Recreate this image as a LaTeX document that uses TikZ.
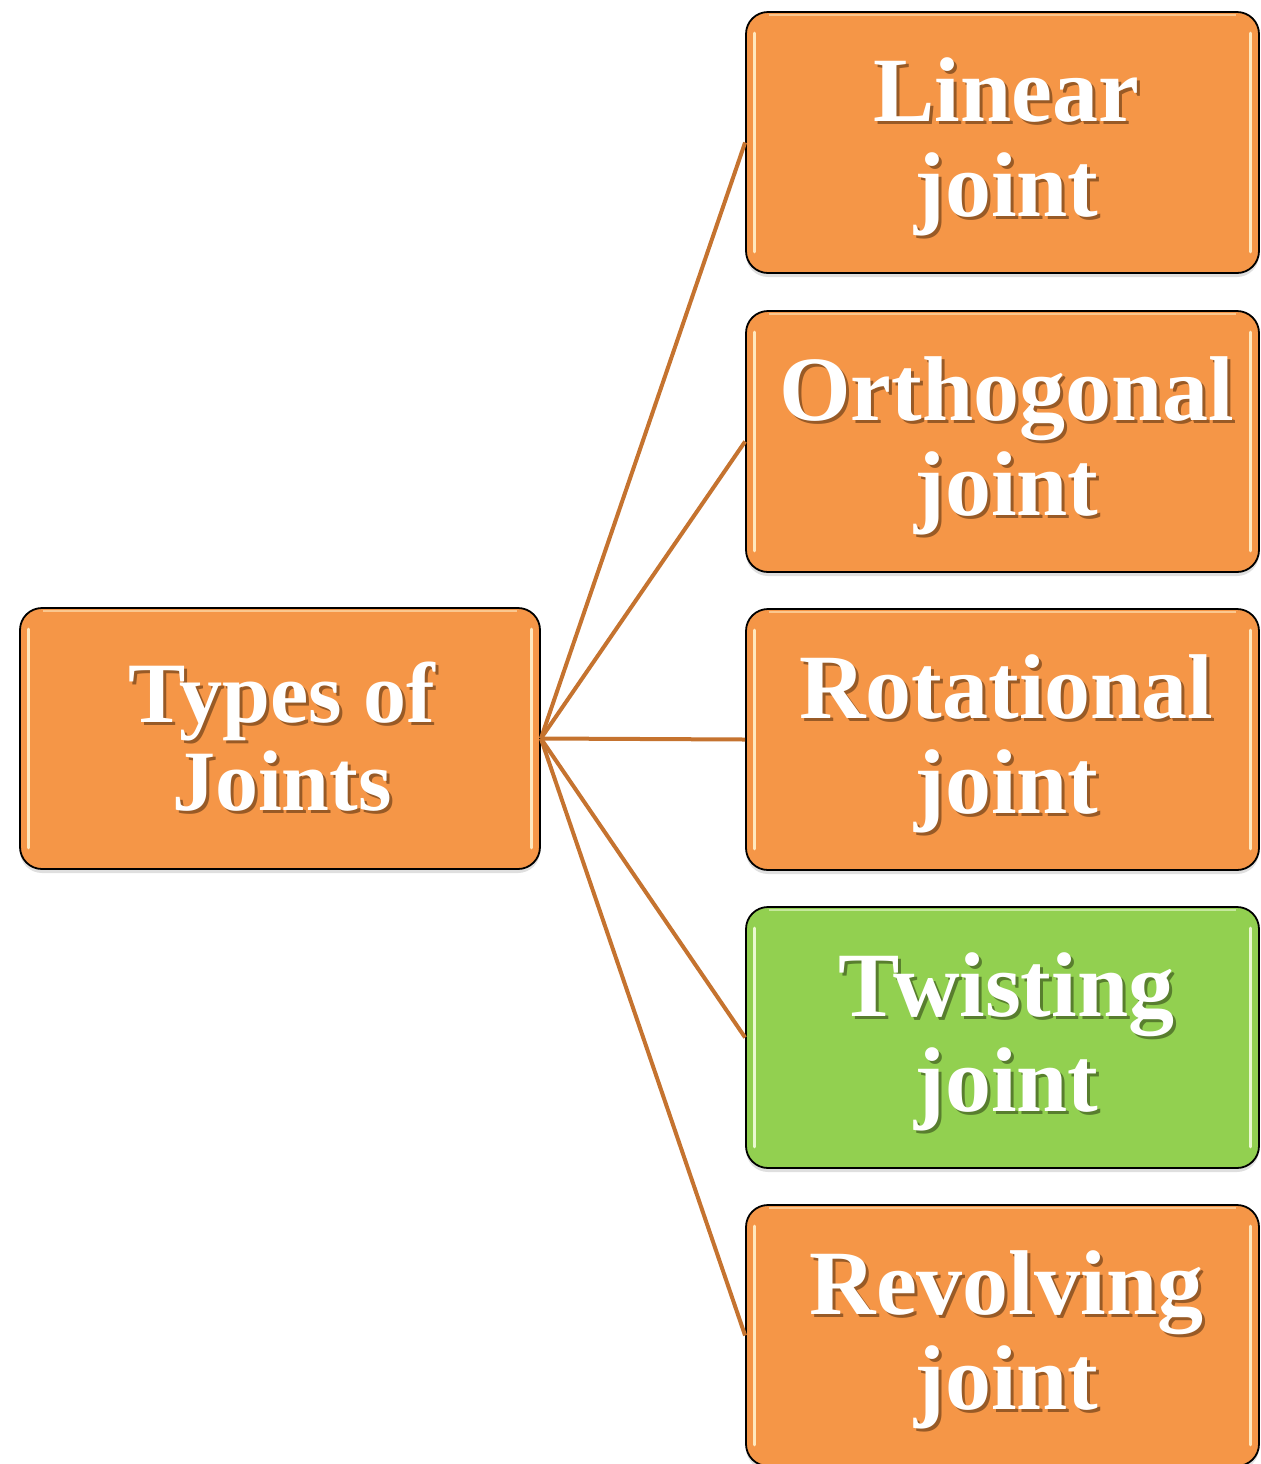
\documentclass[tikz,border=0pt]{standalone}
\usepackage{fontspec}
\setmainfont{Liberation Serif}
\usetikzlibrary{shadows}
\definecolor{boxorange}{HTML}{F59647}
\definecolor{boxgreen}{HTML}{92D050}
\definecolor{linkc}{HTML}{C5732F}
\definecolor{shor}{HTML}{985A26}
\definecolor{shgr}{HTML}{587E2E}
\definecolor{hiorange}{HTML}{FFE8BE}
\definecolor{higreen}{HTML}{EAF8D0}
\newcommand\sh[2]{\makebox[0pt][l]{\kern1.5pt\raisebox{-1.5pt}{\textcolor{#1}{#2}}}#2}
\newcommand\gloss[2]{%
  \draw[#2, line width=1.5pt, line cap=round] ([xshift=4.5pt,yshift=-11pt]#1.north west) -- ([xshift=4.5pt,yshift=11pt]#1.south west);
  \draw[#2, line width=1.5pt, line cap=round] ([xshift=-4.5pt,yshift=-11pt]#1.north east) -- ([xshift=-4.5pt,yshift=11pt]#1.south east);
  \draw[#2, line width=1pt, opacity=0.6] ([xshift=12pt,yshift=-1.8pt]#1.north west) -- ([xshift=-12pt,yshift=-1.8pt]#1.north east);
}
\tikzset{
  jbox/.style={draw=black, line width=0.9pt, rounded corners=11pt, fill=boxorange,
    minimum height=130.5pt, inner sep=0pt,
    drop shadow={shadow xshift=0pt, shadow yshift=-2pt, opacity=0.25}},
  rootbox/.style={jbox, minimum width=260pt},
  leafbox/.style={jbox, minimum width=256.5pt},
  greenbox/.style={leafbox, fill=boxgreen},
  leaftext/.style={align=center, text=white, inner sep=0pt, xshift=2pt, yshift=-2.75pt,
    font=\fontsize{46}{47.5}\selectfont\bfseries},
  roottext/.style={align=center, text=white, inner sep=0pt, xshift=1pt,
    font=\fontsize{43}{44}\selectfont\bfseries},
  link/.style={draw=linkc, line width=2pt}
}
\begin{document}
\begin{tikzpicture}[x=0.5pt,y=-0.5pt]
\useasboundingbox (0,0) rectangle (1261,1464);
\node[rootbox] (root) at (280,738.5) {};
\node[leafbox] (b1) at (1002.5,142.5) {};
\node[leafbox] (b2) at (1002.5,441.5) {};
\node[leafbox] (b3) at (1002.5,739.5) {};
\node[greenbox] (b4) at (1002.5,1037.5) {};
\node[leafbox] (b5) at (1002.5,1335.5) {};
\gloss{root}{hiorange}
\gloss{b1}{hiorange}
\gloss{b2}{hiorange}
\gloss{b3}{hiorange}
\gloss{b4}{higreen}
\gloss{b5}{hiorange}
\node[roottext] (t0) at (root) {\sh{shor}{Types of}\\\sh{shor}{Joints}};
\node[leaftext] (t1) at (b1) {\sh{shor}{Linear}\\\sh{shor}{joint}};
\node[leaftext] (t2) at (b2) {\sh{shor}{Orthogonal}\\\sh{shor}{joint}};
\node[leaftext] (t3) at (b3) {\sh{shor}{Rotational}\\\sh{shor}{joint}};
\node[leaftext] (t4) at (b4) {\sh{shgr}{Twisting}\\\sh{shgr}{joint}};
\node[leaftext] (t5) at (b5) {\sh{shor}{Revolving}\\\sh{shor}{joint}};
\foreach \b in {b1,b2,b3,b4,b5} {\draw[link] (root.east) -- (\b.west);}
\end{tikzpicture}
\end{document}
